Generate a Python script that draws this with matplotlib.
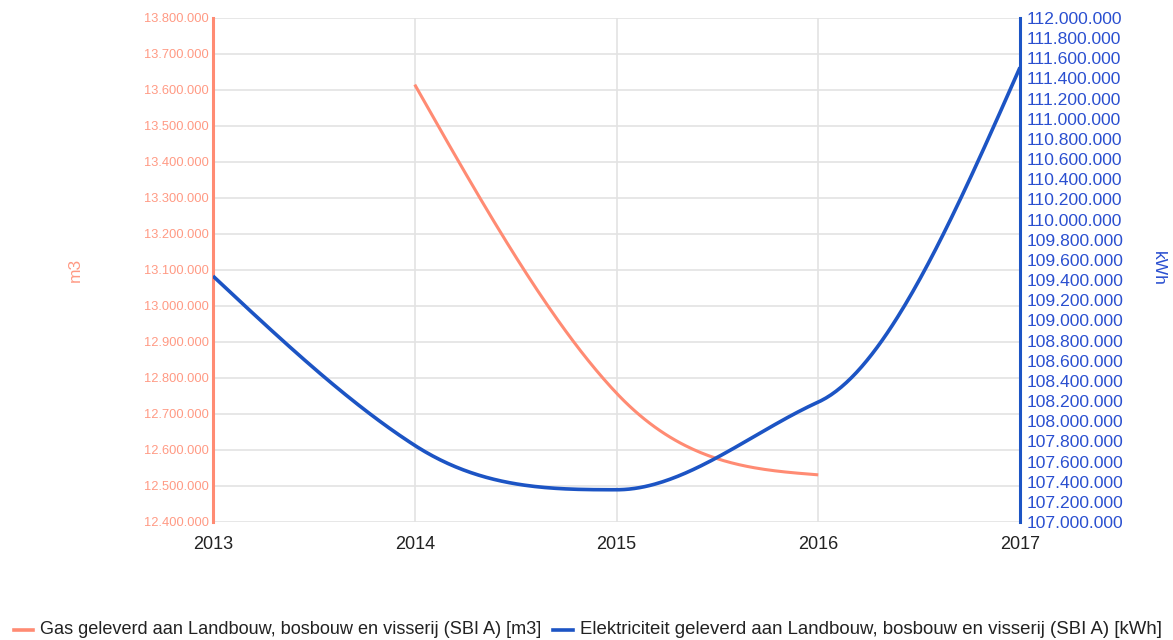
import numpy as np
import matplotlib
matplotlib.use("Agg")
import matplotlib.pyplot as plt
from matplotlib.lines import Line2D
from matplotlib import font_manager

# ---- data ----
years = [2013, 2014, 2015, 2016, 2017]
gas_years = [2014, 2015, 2016]
gas_m3 = [13615000, 12758000, 12531000]
elec_kwh = [109440000, 107760000, 107320000, 108190000, 111510000]
gas_label = "Gas geleverd aan Landbouw, bosbouw en visserij (SBI A) [m3]"
elec_label = "Elektriciteit geleverd aan Landbouw, bosbouw en visserij (SBI A) [kWh]"
left_ticks = list(range(12400000, 13800001, 100000))
right_ticks = list(range(107000000, 112000001, 200000))

SALMON = "#ff8b73"
SALMON_TXT = "#ff9a84"
BLUE = "#1c54c4"
BLUE_TXT = "#2a4fd0"
GRID = "#e3e3e3"

plt.rcParams['font.family'] = ['Liberation Sans', 'DejaVu Sans']
installed = {f.name for f in font_manager.fontManager.ttflist}
HAS_NARROW = 'Liberation Sans Narrow' in installed

W, H = 11.73, 6.40
fig = plt.figure(figsize=(W, H), dpi=100)
L, R, B, T = 213 / 1173, 1020 / 1173, (640 - 522) / 640, (640 - 18) / 640
ax = fig.add_axes([L, B, R - L, T - B])
ax2 = ax.twinx()

plot_w = (R - L) * W * 100
plot_h = (T - B) * H * 100


def fmt(v):
    return f"{int(v):,}".replace(",", ".")


def smooth(xs, ys, yspan, npts=80):
    xs = np.asarray(xs, float)
    ys = np.asarray(ys, float)
    n = len(xs)
    s = np.diff(ys) / np.diff(xs)
    xpx = (xs - 2013) / 4.0 * plot_w
    ypx = ys / yspan * plot_h
    d = np.hypot(np.diff(xpx), np.diff(ypx))
    m = np.zeros(n)
    for i in range(1, n - 1):
        if s[i - 1] * s[i] <= 0:
            m[i] = 0.0
        else:
            r = d[i - 1] / (d[i - 1] + d[i])
            f = np.clip(1.5 * (r - 0.35), 0, 0.5)
            m[i] = s[i - 1] + f * (s[i] - s[i - 1])
    m[0] = (3 * s[0] - m[1]) / 2
    m[-1] = (3 * s[-1] - m[-2]) / 2
    X, Y = [], []
    for i in range(n - 1):
        h = xs[i + 1] - xs[i]
        t = np.linspace(0, 1, npts)
        h00 = 2 * t**3 - 3 * t**2 + 1
        h10 = t**3 - 2 * t**2 + t
        h01 = -2 * t**3 + 3 * t**2
        h11 = t**3 - t**2
        X.append(xs[i] + t * h)
        Y.append(h00 * ys[i] + h10 * h * m[i] + h01 * ys[i + 1] + h11 * h * m[i + 1])
    return np.concatenate(X), np.concatenate(Y)


gx, gy = smooth(gas_years, gas_m3, left_ticks[-1] - left_ticks[0])
ex, ey = smooth(years, elec_kwh, right_ticks[-1] - right_ticks[0])

ax.plot(gx, gy, color=SALMON, lw=2.2, solid_capstyle='butt', zorder=3)
ax2.plot(ex, ey, color=BLUE, lw=2.6, solid_capstyle='butt', zorder=3)

ax.set_xlim(years[0], years[-1])
ax.set_ylim(left_ticks[0], left_ticks[-1])
ax2.set_ylim(right_ticks[0], right_ticks[-1])

ax.set_xticks(years)
ax.set_xticklabels([str(y) for y in years], fontsize=13, color="#222222")
ax.set_yticks(left_ticks)
if HAS_NARROW:
    ax.set_yticklabels([fmt(v) for v in left_ticks], fontsize=10.5, color=SALMON_TXT,
                       family=['Liberation Sans Narrow', 'Liberation Sans'])
else:
    ax.set_yticklabels([fmt(v) for v in left_ticks], fontsize=9.3, color=SALMON_TXT)
ax2.set_yticks(right_ticks)
ax2.set_yticklabels([fmt(v) for v in right_ticks], fontsize=12.6, color=BLUE_TXT)

ax.tick_params(axis='x', length=0, pad=10)
ax.tick_params(axis='y', length=0, pad=3)
ax2.tick_params(axis='y', length=0, pad=5)

ax.grid(True, color=GRID, lw=1.2)
ax.set_axisbelow(True)
for sp in ['top', 'bottom', 'right']:
    ax.spines[sp].set_visible(False)
    ax2.spines[sp].set_visible(False)
ax2.spines['left'].set_visible(False)
ax.spines['left'].set_color(SALMON)
ax.spines['left'].set_linewidth(2.2)
ax2.spines['right'].set_visible(True)
ax2.spines['right'].set_color(BLUE)
ax2.spines['right'].set_linewidth(2.2)

fig.text(75 / 1173, 1 - 270 / 640, "m3", rotation=90, ha='center', va='center',
         fontsize=12.5, color=SALMON_TXT)
fig.text(1158 / 1173, 1 - 268 / 640, "kWh", rotation=-90, ha='center', va='center',
         fontsize=12.5, color=BLUE_TXT)

# legend
ly = 1 - 630 / 640
fig.add_artist(Line2D([14 / 1173, 33 / 1173], [ly, ly], color=SALMON, lw=2.6,
                      transform=fig.transFigure))
fig.text(40 / 1173, ly, gas_label, ha='left', va='center', fontsize=13.1, color="#222222")
fig.add_artist(Line2D([553 / 1173, 573 / 1173], [ly, ly], color=BLUE, lw=2.6,
                      transform=fig.transFigure))
fig.text(580 / 1173, ly, elec_label, ha='left', va='center', fontsize=13.4, color="#222222")

fig.savefig("out.png", dpi=100)
